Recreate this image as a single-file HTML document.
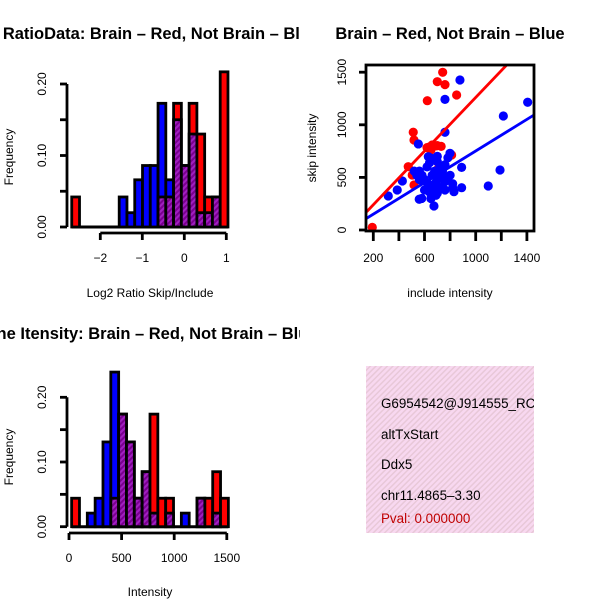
<!DOCTYPE html>
<html><head><meta charset="utf-8"><style>
body{margin:0;background:#fff}
svg text{font-family:"Liberation Sans",sans-serif;fill:#000}
</style></head><body>
<svg id="c" width="600" height="600" viewBox="0 0 600 600" xmlns="http://www.w3.org/2000/svg">
<defs>
<pattern id="hatch" width="4" height="4" patternUnits="userSpaceOnUse" patternTransform="rotate(45)">
<rect width="4" height="4" fill="#a020c0"/><rect width="2" height="4" fill="#7a0090"/></pattern>
<pattern id="pink" width="4" height="4" patternUnits="userSpaceOnUse" patternTransform="rotate(45)">
<rect width="4" height="4" fill="#f8d8f0"/><rect width="1.5" height="4" fill="#e8c8d8"/></pattern>
<clipPath id="boxclip"><rect x="366" y="366" width="168" height="167"/></clipPath>
<clipPath id="scclip"><rect x="366" y="65" width="168" height="166"/></clipPath>
<clipPath id="leftclip"><rect x="0" y="0" width="300" height="600"/></clipPath>
</defs>
<g id="g1" clip-path="url(#leftclip)"></g>
<g id="g2"></g>
<g id="g3" clip-path="url(#leftclip)"></g>
<g>
<rect x="366" y="366" width="168" height="167" fill="url(#pink)"/>
<g clip-path="url(#boxclip)" font-size="13.4">
<text x="381" y="408">G6954542@J914555_RC</text>
<text x="381" y="439">altTxStart</text>
<text x="381" y="469">Ddx5</text>
<text x="381" y="500">chr11.4865–3.30</text>
<text x="381" y="523" style="fill:#c00000">Pval: 0.000000</text>
</g></g>
</svg>
<script>
// ---- Top histogram data (log2 ratio) ----
const ratioBinEdges = [-2.68,-1.55,-1.365,-1.18,-0.995,-0.81,-0.625,-0.44,-0.255,-0.07,0.115,0.3,0.485,0.67,0.855];
const ratioBinWidth = 0.185;
const ratioBlue = [0,0.042,0.020,0.066,0.086,0.086,0.173,0.066,0.150,0.086,0.130,0.020,0.020,0.042,0];
const ratioRed  = [0.042,0,0,0,0,0,0.042,0.042,0.173,0.086,0.173,0.130,0.042,0.042,0.217];
const ratioXTicks = [-2,-1,0,1];
const freqTicks = [0,0.05,0.10,0.15,0.20];
const freqLabels = ["0.00","","0.10","","0.20"];
// ---- Bottom histogram data (intensity) ----
const intBinStart = 25, intBinWidth = 74.5;
const intBlue = [0,0,0.021,0.044,0.131,0.239,0.174,0.131,0.044,0.085,0.021,0,0.021,0,0.021,0,0.044,0,0.021,0];
const intRed  = [0.044,0,0,0,0,0.044,0.174,0.131,0.044,0.085,0.174,0.044,0.044,0,0,0,0.044,0.044,0.085,0.044];
const intXTicks = [0,500,1000,1500];
// ---- Scatter data ----
const redX = [192,742,700,760,622,851,512,518,473,620,660,700,730,650,812,708,518,504,640,690];
const redY = [25,1499,1410,1382,1229,1283,929,855,602,783,808,802,795,760,713,586,428,523,790,800];
const blueX = [877,760,1406,1216,760,552,890,1190,1098,890,317,387,427,559,578,674,830,799,783,630,
 560,580,600,620,640,660,680,700,720,740,620,640,660,700,600,640,700,740,760,780,800,820,680,720,560,540,520,660,700,760,820,650,690,700,760];
const blueY = [1426,1242,1214,1084,929,818,595,570,418,402,323,380,466,292,300,228,364,729,687,697,
 560,520,480,450,420,400,440,480,520,560,600,640,680,700,380,360,350,400,460,500,520,440,560,600,480,520,560,520,420,380,400,300,330,650,620];
const redFit = {a:-15, b:1.275};
const blueFit = {a:0, b:0.751};
const scXTicks = [200,400,600,800,1000,1200,1400];
const scXLabels = ["200","","600","","1000","","1400"];
const scYTicks = [0,500,1000,1500];

const NS="http://www.w3.org/2000/svg";
function mk(parent,tag,attrs,txt){const e=document.createElementNS(NS,tag);for(const k in attrs)e.setAttribute(k,attrs[k]);if(txt!==undefined)e.textContent=txt;parent.appendChild(e);return e;}

function drawHist(g,edges,width,blue,red,xs,y0,yScale,xTicks,xLab,axisY,title,titleX,titleY,xTitle,xTitleY,yTitleY,prefix){
  const ys=v=>y0-v*yScale;
  const base=mk(g,'line',{x1:xs(edges[0]),x2:xs(edges[edges.length-1]+width),y1:ys(0),y2:ys(0),stroke:'#000','stroke-width':3});
  
  
  for(let i=0;i<edges.length;i++){
    const x1=xs(edges[i]),x2=xs(edges[i]+width);
    const b=blue[i],r=red[i],m=Math.min(b,r),M=Math.max(b,r);
    if(M<=0)continue;
    const col=b>r?'#0000ff':'#ff0000';
    const e1=mk(g,'rect',{x:x1,y:ys(M),width:x2-x1,height:ys(0)-ys(M),fill:col,stroke:'#000','stroke-width':2.8});
    
    
    if(m>0){
      const e2=mk(g,'rect',{x:x1,y:ys(m),width:x2-x1,height:ys(0)-ys(m),fill:'url(#hatch)',stroke:'#000','stroke-width':2.8});
      
      
    }
  }
  const ya=mk(g,'g',{});
  
  
  mk(ya,'line',{x1:67,x2:67,y1:ys(0),y2:ys(0.2),stroke:'#000','stroke-width':2.8});
  freqTicks.forEach((t,i)=>{
    mk(ya,'line',{x1:60,x2:67,y1:ys(t),y2:ys(t),stroke:'#000','stroke-width':2.8});
    if(freqLabels[i]) mk(ya,'text',{x:0,y:0,'font-size':12,'text-anchor':'middle',transform:`translate(46,${ys(t)}) rotate(-90)`},freqLabels[i]);
  });
  const xa=mk(g,'g',{});
  
  
  mk(xa,'line',{x1:xs(xTicks[0]),x2:xs(xTicks[xTicks.length-1]),y1:axisY,y2:axisY,stroke:'#000','stroke-width':2.8});
  xTicks.forEach((t,i)=>{
    mk(xa,'line',{x1:xs(t),x2:xs(t),y1:axisY,y2:axisY+7,stroke:'#000','stroke-width':2.8});
    mk(xa,'text',{x:xs(t),y:axisY+29,'font-size':12,'text-anchor':'middle'},xLab[i]);
  });
  const tt=mk(g,'text',{x:titleX,y:titleY,'font-size':16.5,'font-weight':'bold','text-anchor':'middle'},title);
  
  
  const xt=mk(g,'text',{x:150,y:xTitleY,'font-size':12,'text-anchor':'middle'},xTitle);
  
  
  const yt=mk(g,'text',{x:0,y:0,'font-size':12,'text-anchor':'middle',transform:`translate(13,${yTitleY}) rotate(-90)`},'Frequency');
  
  
}

drawHist(document.getElementById('g1'),ratioBinEdges,ratioBinWidth,ratioBlue,ratioRed,
  v=>184.3+v*42.0,227,715,ratioXTicks,["−2","−1","0","1"],233,
  'Log2 RatioData: Brain – Red, Not Brain – Blue',139,39,'Log2 Ratio Skip/Include',297,157,'ratio');
const intEdges=intBlue.map((_,i)=>intBinStart+i*intBinWidth);
drawHist(document.getElementById('g3'),intEdges,intBinWidth,intBlue,intRed,
  v=>69+v*0.1052,526.7,647,intXTicks,["0","500","1000","1500"],533,
  'Gene Itensity: Brain – Red, Not Brain – Blue',146,339,'Intensity',596,457,'intensity');

(function(){
  const g=document.getElementById('g2');
  const sx=v=>373.3+(v-200)*0.128, sy=v=>230-v*0.1052;
  const pts=mk(g,'g',{'clip-path':'url(#scclip)'});
  redX.forEach((x,i)=>{const c=mk(pts,'circle',{cx:sx(x),cy:sy(redY[i]),r:4.6,fill:'#ff0000'});
    
    });
  blueX.forEach((x,i)=>{const c=mk(pts,'circle',{cx:sx(x),cy:sy(blueY[i]),r:4.6,fill:'#0000ff'});
    
    });
  const x0=148,x1=1500;
  const rl=mk(pts,'line',{x1:sx(x0),y1:sy(redFit.a+redFit.b*x0),x2:sx(x1),y2:sy(redFit.a+redFit.b*x1),stroke:'#ff0000','stroke-width':2.8});
  
  
  const bl=mk(pts,'line',{x1:sx(x0),y1:sy(blueFit.a+blueFit.b*x0),x2:sx(x1),y2:sy(blueFit.a+blueFit.b*x1),stroke:'#0000ff','stroke-width':2.8});
  
  
  const fr=mk(g,'rect',{x:366,y:65,width:168,height:166,fill:'none',stroke:'#000','stroke-width':2.8});
  
  
  scXTicks.forEach((t,i)=>{mk(g,'line',{x1:sx(t),x2:sx(t),y1:231,y2:241,stroke:'#000','stroke-width':2.8});
    if(scXLabels[i])mk(g,'text',{x:sx(t),y:262,'font-size':12,'text-anchor':'middle'},scXLabels[i]);});
  scYTicks.forEach(t=>{mk(g,'line',{x1:359,x2:366,y1:sy(t),y2:sy(t),stroke:'#000','stroke-width':2.8});
    mk(g,'text',{x:0,y:0,'font-size':12,'text-anchor':'middle',transform:`translate(346,${sy(t)}) rotate(-90)`},String(t));});
  const tt=mk(g,'text',{x:450,y:39,'font-size':16.5,'font-weight':'bold','text-anchor':'middle'},'Brain – Red, Not Brain – Blue');
  
  
  const xt=mk(g,'text',{x:450,y:297,'font-size':12,'text-anchor':'middle'},'include intensity');
  
  
  const yt=mk(g,'text',{x:0,y:0,'font-size':12,'text-anchor':'middle',transform:'translate(316,148) rotate(-90)'},'skip intensity');
  
  
})();
</script>
</body></html>
